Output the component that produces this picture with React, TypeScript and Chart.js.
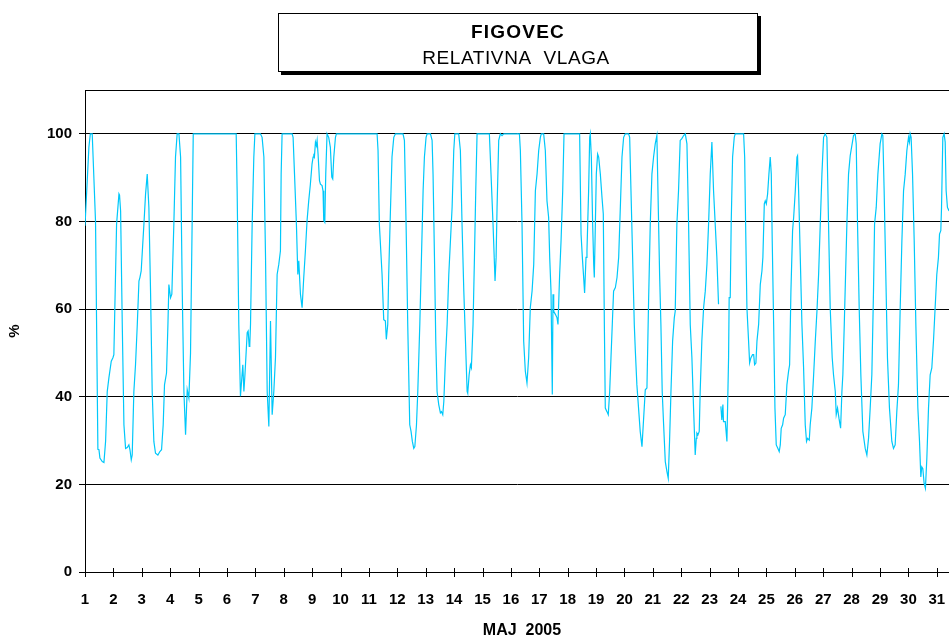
import React, { useEffect, useRef } from "react";
import { Chart, registerables } from "chart.js";

Chart.register(...registerables);

// ---- text ----
const STATION = "FIGOVEC";
const QUANTITY = "RELATIVNA  VLAGA";
const X_TITLE = "MAJ  2005";
const Y_TITLE = "%";

// ---- axes ----
const DAY_TICKS = [1, 2, 3, 4, 5, 6, 7, 8, 9, 10, 11, 12, 13, 14, 15, 16, 17, 18, 19, 20, 21, 22, 23, 24, 25, 26, 27, 28, 29, 30, 31];
const RH_TICKS = [0, 20, 40, 60, 80, 100];
const X_MIN_DAY = 1;
const X_MAX_DAY = 31.43;
const Y_MAX = 110;

// ---- relative humidity readings: [hour since 1 May 00:00, RH %] ----
const rhDays1to7: [number, number | null][] = [
  [0, 79], [3.3, 97], [4.5, 100], [6.1, 100], [8.9, 80], [10.9, 28], [11.8, 27.9], [12.6, 26], [14.6, 25.2], [16, 25],
  [17.4, 29.8], [18.8, 41.2], [20.2, 44.3], [22.2, 48.1], [23.6, 48.9], [24.4, 49.6], [26.7, 79.4], [28.7, 86.3], [29.2, 86],
  [30.1, 82.4], [31.5, 56.5], [32.9, 33.6], [34.3, 28.2], [35.7, 28.4], [37.1, 29], [38, 27.9], [39.1, 25.6], [39.9, 26.7],
  [41.3, 41.2], [42.7, 47.3], [44.2, 56.5], [45.6, 66.4], [46.4, 67.2], [47.5, 68.7], [49.8, 79.4], [51.2, 86.3], [52.6, 90.8],
  [54, 83.2], [55.4, 64.1], [56.8, 41.2], [58.2, 29.8], [59.6, 27.1], [61.6, 26.7], [63.3, 27.5], [64.7, 27.9], [66.1, 33.6],
  [67.2, 42.7], [68.9, 45.4], [70.1, 56.5], [70.9, 65.6], [72.3, 62.6], [73.4, 63.4], [75.1, 79.4], [76.5, 94.7], [77.9, 100],
  [79.4, 100], [80.8, 94.7], [82.2, 64.1], [83.6, 41.2], [85, 31.3], [86.4, 41.6], [87.8, 39.7], [89.2, 50], [91.5, 100],
  [127.8, 100], [128.6, 87], [130, 56.5], [131.4, 40.1], [133.4, 47.3], [134.3, 41.2], [135.2, 45], [137.1, 54.6], [137.9, 55],
  [138.8, 51.5], [139.3, 51.9], [139.9, 56.5], [141.3, 79.4], [142.7, 94.7], [143.6, 100], [148.3, 100], [149.7, 99.2],
  [151.2, 94.7], [152.6, 71.8], [154, 41.2], [155.4, 33.2], [156.8, 57.3], [158.2, 35.9], [159.6, 41.2], [161, 48.9],
  [162.4, 67.9], [163.8, 70.2], [165.2, 73.3], [165.8, 90.8], [166.6, 100],
];

const rhDays8to14: [number, number | null][] = [
  [175.1, 100], [175.9, 99.2], [177.1, 90.8], [178.7, 79.4], [179.9, 67.9], [180.7, 71], [182.1, 63.4], [183.5, 60.3],
  [184.9, 67.2], [186.3, 73.3], [187.7, 80.2], [189.1, 84.7], [190.5, 88.5], [191.9, 93.1], [192.8, 94.7], [193.4, 95],
  [193.9, 94.7], [194.8, 98.1], [195.6, 97.3], [196.2, 98.5], [197, 95.4], [198.2, 89.3], [199, 88.5], [200.4, 88.2],
  [201.2, 87], [201.8, 80.2], [202.7, 79.8], [203.5, 90.8], [204.6, 100], [206, 99.2], [207.4, 96.9], [208.6, 90.1],
  [209.4, 89.7], [210.3, 94.7], [211.7, 99.2], [212.5, 100], [246.9, 100], [247.7, 96.2], [248.8, 79.4], [251.1, 67.9],
  [252.5, 57.6], [253.9, 57.3], [254.7, 53.1], [255.9, 56.5], [256.7, 67.9], [258.1, 81.7], [259.5, 94.7], [261, 99.2],
  [262.4, 100], [268.8, 100], [270, 98.5], [271.4, 79.4], [272.8, 56.5], [274.5, 33.6], [275.6, 32.1], [276.7, 29.8],
  [277.9, 28.2], [278.8, 28.6], [280.2, 33.6], [281.3, 41.2], [283, 56.5], [284.4, 71.8], [285.8, 87], [286.9, 94.7],
  [288.3, 99.2], [289.2, 100], [292, 100], [293.4, 98.5], [294.2, 90.8], [295.4, 71.8], [296.5, 52.7], [297.6, 41.2],
  [299, 38.2], [300.4, 36.3], [301.3, 36.6], [302.4, 35.9], [303.3, 38.9], [304.7, 48.9], [306.1, 56.5], [307.5, 67.9],
  [308.9, 75.6], [310.3, 83.2], [311.7, 96.2], [312.6, 100], [315.9, 100], [317.3, 96.2], [318.7, 79.4], [320.2, 64.1],
  [321.6, 52.7], [323, 41.2], [323.5, 40.8], [324.7, 45], [325.8, 47.3], [326.6, 46.6], [328, 56.5], [329.2, 71.8],
  [330.3, 87], [331.4, 100],
];

const rhDays15to21: [number, number | null][] = [
  [341.8, 100], [343.2, 90.8], [344.9, 79.4], [346.1, 70.2], [346.6, 66.4], [347.5, 71.8], [348.3, 83.2], [349.7, 98.5],
  [351.1, 100], [352.5, 99.6], [354, 100], [367.2, 100], [368, 96.2], [369.4, 79.4], [370.8, 52.7], [372.2, 45.8],
  [373.6, 43.1], [375, 48.9], [376.4, 60.3], [377.9, 64.1], [379.3, 70.2], [380.7, 87], [382.1, 90.8], [383.5, 96.2],
  [384.9, 99.2], [385.7, 100], [387.7, 100], [389.1, 96.2], [390.5, 84.7], [391.9, 80.9], [392.8, 71.8], [393.9, 64.1],
  [395, 40.5], [395.6, 63.4], [396.2, 59.5], [397.6, 58.8], [399, 58], [399.8, 56.5], [401.2, 67.9], [402.4, 75.6],
  [403.8, 87], [404.9, 100], [418.1, 100], [419.3, 77.1], [420.4, 71.8], [421.5, 67.2], [422.3, 63.7], [423.5, 71.8],
  [424.3, 73.3], [425.7, 87], [426.6, 99.2], [427.1, 100], [428, 94.7], [429.1, 79.4], [430, 70.2], [430.5, 67.2],
  [431.4, 79.4], [432.2, 90.8], [433.3, 95.4], [434.2, 94.7], [435.6, 90.8], [437, 85.5], [438.1, 81.7], [439, 56.5],
  [439.8, 37.4], [441.2, 36.6], [442.3, 35.9], [443.5, 41.2], [444.6, 48.9], [445.7, 56.5], [446.8, 64.1], [448.3, 64.9],
  [449.7, 67.2], [451.1, 71.8], [452.5, 83.2], [453.9, 94.7], [455.3, 99.2], [456.7, 100], [459.5, 100], [460.4, 99.2],
  [461.5, 87], [462.9, 71.8], [464.3, 56.5], [465.2, 50.4], [466.5, 42.7], [467.9, 37.4], [469.3, 32.1], [470.8, 28.6],
  [472.2, 35.1], [473.6, 41.6], [475, 42], [476.4, 62], [477.8, 79.4], [479.2, 90.8], [480.6, 94.7], [482, 97.7],
  [483.4, 99.6], [484.3, 87], [485.7, 67.9], [486.8, 56.5], [487.9, 41.2], [489.1, 33.6], [490.5, 25.2], [491.9, 22.9],
  [493, 21.4], [494.1, 29.8], [495.3, 41.2], [496.7, 52.7], [498.1, 58], [498.9, 59.5], [500.3, 79.4], [501.7, 87],
  [503.1, 98.5],
];

const rhDays22to31: [number, number | null][] = [
  [504.5, 98.9], [506, 99.6], [507.4, 100], [508.8, 97.7], [510.2, 79.4], [511.6, 56.5], [513, 48.9], [514.4, 37.4],
  [515.8, 26.7], [516.7, 30.5], [517.2, 31.7], [518.1, 31.3], [519.2, 32.1], [520, 41.2], [521.4, 52.7], [522.9, 60.3],
  [524.3, 64.1], [525.7, 70.2], [527.1, 79.4], [528.5, 90.8], [529.9, 98.1], [531.3, 87], [532.7, 79.4], [534.1, 71.8],
  [535.5, 61.1], [536.5, null], [537.5, 37.8], [538.3, 34.7], [539.2, 38.2], [539.7, 34.3], [541.2, 34.3], [542.6, 29.8],
  [544, 48.9], [544.5, 62.6], [545.4, 62.6], [546.2, 79.4], [547.4, 94.7], [548.8, 99.2], [549.6, 100], [556.7, 100],
  [557.6, 94.7], [558.4, 79.4], [559.5, 60.3], [560.9, 52.7], [561.8, 47.7], [562.9, 48.9], [564.3, 49.6], [565.2, 49.6],
  [566, 47.3], [567.1, 47.7], [568, 52.7], [569.4, 56.5], [570.8, 65.6], [572.2, 68.7], [573, 71.8], [574.2, 84],
  [575, 84.7], [575.9, 84], [577, 86.3], [578.1, 90.8], [579.2, 94.7], [580.1, 90.8], [580.9, 75.6], [582.1, 56.5],
  [583.2, 37.4], [584.3, 29], [585.7, 28.2], [586.8, 27.5], [587.7, 29], [588.5, 32.8], [589.7, 33.6], [590.5, 35.1],
  [591.9, 35.9], [593.3, 42.7], [594.7, 45.8], [595.6, 47.3], [596.7, 64.1], [598.1, 77.9], [599, 80.9], [600.4, 87],
  [601.8, 94.7], [602.3, 95], [603.2, 87], [604.6, 71.8], [606, 56.5], [607.4, 46.6], [608.8, 33.6], [609.9, 29.8],
  [610.8, 30.5], [612.2, 30.1], [613, 33.6], [614.4, 37.4], [615.9, 45], [617.3, 52.7], [618.7, 59.5], [620.1, 67.9],
  [621.5, 79.4], [622.9, 90.8], [624.3, 99.2], [625.7, 100], [627.1, 99.2], [628.5, 79.4], [629.9, 60.3], [631.6, 48.9],
  [632.7, 45], [634.2, 41.2], [635, 35.9], [636.1, 37.4], [637.3, 35.1], [638.7, 32.8], [639.8, 41.2], [640.6, 45],
  [641.8, 56.5], [642.9, 67.9], [644, 79.4], [645.4, 90.8], [646.8, 95], [649.6, 99.6], [651, 100], [651.9, 97.7],
  [653, 79.4], [654.4, 60.3], [655.8, 45], [657.5, 32.1], [659.5, 28.2], [660.9, 26.7], [662.3, 30.5], [663.7, 37.4],
  [665.1, 45], [666.5, 64.1], [667.4, 79.4], [668.8, 83.2], [670.2, 90.8], [672.1, 97.7], [673.6, 100], [674.4, 99.6],
  [675.5, 87], [676.9, 67.9], [678.3, 48.9], [680, 37.4], [682, 29.8], [683.4, 28.2], [684.8, 29], [686.2, 36.6],
  [687.6, 42.7], [689, 59.5], [690.5, 75.6], [691.9, 87], [693.3, 90.8], [694.7, 96.2], [696.1, 99.2], [696.9, 98.1],
  [697.5, 100], [698.3, 99.2], [699.5, 90.8], [700.9, 75.6], [702.3, 56.5], [704, 37.4], [705.4, 29.8], [706.5, 21.7],
  [707.3, 24], [708.2, 23.6], [709.3, 20.2], [710.4, 19.1], [711.6, 26], [713, 37.4], [714.4, 45], [715.8, 46.6],
  [717.2, 52.7], [718.6, 60.3], [720, 67.9], [721.4, 71.8], [722.3, 77.1], [723.4, 77.9], [724, 83.2], [725.1, 99.2],
  [726.2, 100], [727.1, 98.1], [727.9, 87], [729, 83.2], [730.4, 82.4], [732, 83],
];

const FONT = "'Liberation Sans', Arial, sans-serif";
const LINE_COLOR = "#00C8FA";

const decorPlugin = {
  id: "decor",
  afterDraw(chart: any) {
    const ctx: CanvasRenderingContext2D = chart.ctx;
    const { left, right, top, bottom } = chart.chartArea;
    const xs = chart.scales.x;
    ctx.save();
    ctx.strokeStyle = "#000";
    ctx.lineWidth = 1;
    // top frame line
    ctx.beginPath();
    const ty = Math.round(top) + 0.5;
    ctx.moveTo(left, ty);
    ctx.lineTo(right, ty);
    ctx.stroke();
    // day tick marks crossing the x axis
    ctx.beginPath();
    xs.ticks.forEach((t: any) => {
      const px = Math.round(xs.getPixelForValue(t.value)) + 0.5;
      ctx.moveTo(px, bottom - 4);
      ctx.lineTo(px, bottom + 5);
    });
    ctx.stroke();
    // x axis title
    ctx.fillStyle = "#000";
    ctx.font = `bold 16px ${FONT}`;
    ctx.textAlign = "center";
    ctx.textBaseline = "alphabetic";
    ctx.fillText(X_TITLE, 522, 635);

    // title box with shadow
    ctx.fillStyle = "#000";
    ctx.fillRect(281, 16, 480, 59);
    ctx.fillStyle = "#fff";
    ctx.fillRect(278, 13, 480, 59);
    ctx.strokeStyle = "#000";
    ctx.strokeRect(278.5, 13.5, 479, 58);
    ctx.fillStyle = "#000";
    ctx.textAlign = "center";
    (ctx as any).letterSpacing = "1.2px";
    ctx.font = `bold 19px ${FONT}`;
    ctx.fillText(STATION, 518, 37.5);
    (ctx as any).letterSpacing = "0.6px";
    ctx.font = `19px ${FONT}`;
    ctx.fillText(QUANTITY, 516, 64);
    (ctx as any).letterSpacing = "0px";
    ctx.restore();
  },
};

export default function App() {
  const canvasRef = useRef<HTMLCanvasElement | null>(null);

  useEffect(() => {
    const canvas = canvasRef.current;
    if (!canvas) return;
    const rows = [...rhDays1to7, ...rhDays8to14, ...rhDays15to21, ...rhDays22to31];
    const points = rows.map(([h, v]) => ({ x: X_MIN_DAY + h / 24, y: v }));

    const chart = new Chart(canvas, {
      type: "line",
      data: {
        datasets: [
          {
            data: points as any,
            borderColor: LINE_COLOR,
            borderWidth: 1.2,
            pointRadius: 0,
            tension: 0,
            spanGaps: false,
            fill: false,
          },
        ],
      },
      options: {
        animation: false,
        responsive: false,
        events: [],
        layout: { padding: { top: 90, left: 0, right: 0, bottom: 0 } },
        plugins: {
          legend: { display: false },
          tooltip: { enabled: false },
          title: { display: false },
        },
        scales: {
          x: {
            type: "linear",
            min: X_MIN_DAY,
            max: X_MAX_DAY,
            afterBuildTicks: (scale: any) => {
              scale.ticks = DAY_TICKS.map((v) => ({ value: v }));
            },
            afterFit: (scale: any) => {
              scale.height = 68;
              scale.paddingLeft = 0;
              scale.paddingRight = 0;
            },
            grid: { display: true, color: "rgba(0,0,0,0)", drawTicks: false },
            border: { display: true, color: "#000", width: 1 },
            ticks: {
              autoSkip: false,
              maxRotation: 0,
              minRotation: 0,
              padding: 19,
              color: "#000",
              font: { family: FONT, size: 15, weight: "bold" },
              callback: (v: any) => String(v),
            },
          },
          y: {
            type: "linear",
            min: 0,
            max: Y_MAX,
            afterBuildTicks: (scale: any) => {
              scale.ticks = RH_TICKS.map((v) => ({ value: v }));
            },
            afterFit: (scale: any) => {
              scale.width = 85;
              scale.paddingTop = 0;
              scale.paddingBottom = 0;
            },
            grid: { color: "#000", lineWidth: 1, tickLength: 6, tickColor: "#000" },
            border: { display: true, color: "#000", width: 1 },
            ticks: {
              padding: 7,
              color: "#000",
              font: { family: FONT, size: 15, weight: "bold" },
              callback: (v: any) => String(v),
            },
            title: {
              display: true,
              text: Y_TITLE,
              color: "#000",
              font: { family: FONT, size: 15, weight: "bold" },
              padding: { top: 6, bottom: 0 },
            },
          },
        },
      },
      plugins: [decorPlugin],
    });
    return () => chart.destroy();
  }, []);

  return (
    <div style={{ position: "fixed", left: 0, top: 0, width: 949, height: 640, background: "#fff" }}>
      <canvas ref={canvasRef} width={949} height={640} style={{ display: "block", width: 949, height: 640 }} />
    </div>
  );
}
